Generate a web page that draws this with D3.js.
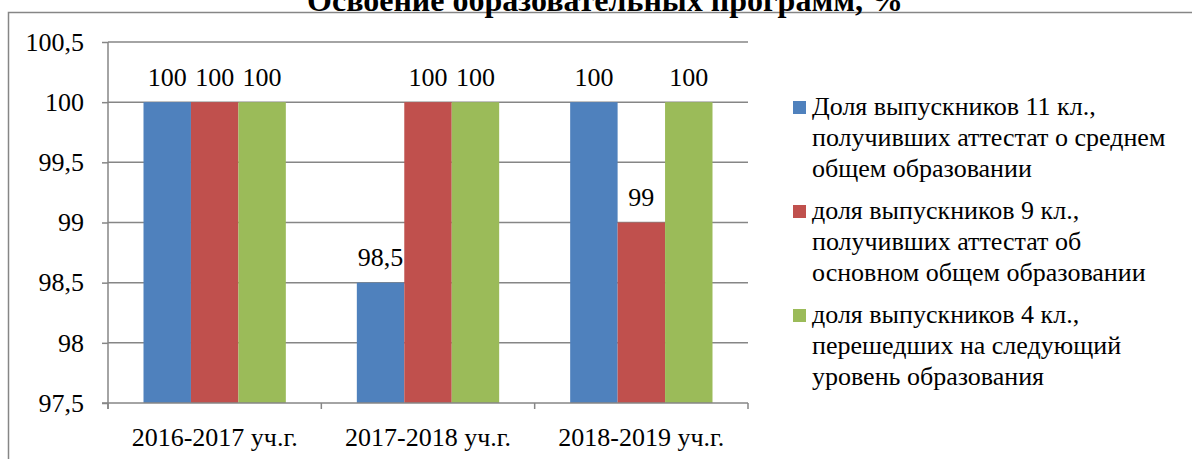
<!DOCTYPE html>
<html>
<head>
<meta charset="utf-8">
<script src="https://cdn.jsdelivr.net/npm/d3@7"></script>
<style>
  body { margin: 0; background: #fff; }
  svg { display: block; font-family: "Liberation Serif", "Times New Roman", serif; }
</style>
</head>
<body>
<svg id="chart" width="1192" height="459"></svg>
<script>
// chart data
var years = ["2016-2017 уч.г.", "2017-2018 уч.г.", "2018-2019 уч.г."];
var seriesNames = [
  ["Доля выпускников 11 кл.,", "получивших аттестат о среднем", "общем образовании"],
  ["доля выпускников 9 кл.,", "получивших аттестат об", "основном общем образовании"],
  ["доля выпускников 4 кл.,", "перешедших на следующий", "уровень образования"]
];
var grade11 = [100, 98.5, 100];
var grade9 = [100, 100, 99];
var grade4 = [100, 100, 100];
var yTicks = [97.5, 98, 98.5, 99, 99.5, 100, 100.5];
var colors = ["#4f81bd", "#c0504d", "#9bbb59"];
var title = "Освоение образовательных программ, %";

var allSeries = [grade11, grade9, grade4];
var svg = d3.select("#chart");
var gridColor = "#868686";
var fontFamily = "'Liberation Serif', 'Times New Roman', serif";
var fontSize = 26;
var fmt = function(v) { return String(v).replace(".", ","); };

// outer frame (only top and left edges are inside the picture)
svg.append("path")
  .attr("d", "M8.5,459V12.5H1192")
  .attr("fill", "none")
  .attr("stroke", gridColor)
  .attr("stroke-width", 1.5);

svg.append("text")
  .attr("x", 605)
  .attr("y", 11)
  .attr("text-anchor", "middle")
  .attr("font-weight", "bold")
  .attr("font-size", 32)
  .text(title);

var plot = {left: 108, right: 748, top: 42, bottom: 403};

var x0 = d3.scaleBand().domain(years).range([plot.left, plot.right]);
var x1 = d3.scaleBand().domain(d3.range(allSeries.length))
  .range([35.5, x0.bandwidth() - 35.5]);
var y = d3.scaleLinear().domain([97.5, 100.5]).range([plot.bottom, plot.top]);

// gridlines
svg.append("g").selectAll("line")
  .data(yTicks.slice(1))
  .join("line")
  .attr("x1", plot.left).attr("x2", plot.right)
  .attr("y1", function(d) { return y(d); })
  .attr("y2", function(d) { return y(d); })
  .attr("stroke", gridColor)
  .attr("stroke-width", 1.5);

// bars
var groups = svg.append("g").selectAll("g")
  .data(years)
  .join("g")
  .attr("transform", function(d) { return "translate(" + x0(d) + ",0)"; });

var cells = function(d, i) {
  return allSeries.map(function(s, k) { return {k: k, v: s[i]}; });
};

groups.selectAll("rect")
  .data(cells)
  .join("rect")
  .attr("x", function(d) { return x1(d.k); })
  .attr("width", x1.bandwidth())
  .attr("y", function(d) { return y(d.v); })
  .attr("height", function(d) { return y(97.5) - y(d.v); })
  .attr("fill", function(d) { return colors[d.k]; });

groups.selectAll("text")
  .data(cells)
  .join("text")
  .attr("x", function(d) { return x1(d.k) + x1.bandwidth() / 2; })
  .attr("y", function(d) { return y(d.v) - 16.5; })
  .attr("text-anchor", "middle")
  .attr("font-size", fontSize)
  .text(function(d) { return fmt(d.v); });

// axes
var yAxis = d3.axisLeft(y).tickValues(yTicks).tickFormat(fmt).tickSize(6).tickPadding(18);
var gy = svg.append("g")
  .attr("transform", "translate(" + plot.left + ",0)")
  .call(yAxis)
  .attr("font-family", fontFamily)
  .attr("font-size", fontSize);
gy.select(".domain").remove();
gy.append("line")
  .attr("y1", plot.top).attr("y2", plot.bottom + 6)
  .attr("stroke", gridColor).attr("stroke-width", 1.5);
gy.selectAll(".tick line").attr("stroke", gridColor).attr("stroke-width", 1.5);
gy.selectAll(".tick text").attr("fill", "#000");

var xAxis = d3.axisBottom(x0).tickSize(0).tickPadding(25);
var gx = svg.append("g")
  .attr("transform", "translate(0," + plot.bottom + ")")
  .call(xAxis)
  .attr("font-family", fontFamily)
  .attr("font-size", fontSize);
gx.select(".domain").remove();
gx.append("line")
  .attr("x1", plot.left - 6).attr("x2", plot.right)
  .attr("stroke", gridColor).attr("stroke-width", 1.5);
gx.selectAll(".sep")
  .data(years.map(function(d) { return x0(d); }).concat([plot.right]))
  .join("line")
  .attr("class", "sep")
  .attr("x1", function(d) { return d; }).attr("x2", function(d) { return d; })
  .attr("y1", 0).attr("y2", 6)
  .attr("stroke", gridColor).attr("stroke-width", 1.5);
gx.selectAll(".tick text").attr("fill", "#000");

// legend
var legendTop = [115, 219, 323];
var legend = svg.append("g").selectAll("g")
  .data(seriesNames)
  .join("g")
  .attr("transform", function(d, i) { return "translate(793," + legendTop[i] + ")"; });

legend.append("rect")
  .attr("y", -14).attr("width", 13).attr("height", 13)
  .attr("fill", function(d, i) { return colors[i]; });

legend.selectAll("text")
  .data(function(d) { return d; })
  .join("text")
  .attr("x", 19)
  .attr("y", function(d, j) { return j * 31; })
  .attr("font-size", fontSize)
  .text(function(d) { return d; });
</script>
</body>
</html>
